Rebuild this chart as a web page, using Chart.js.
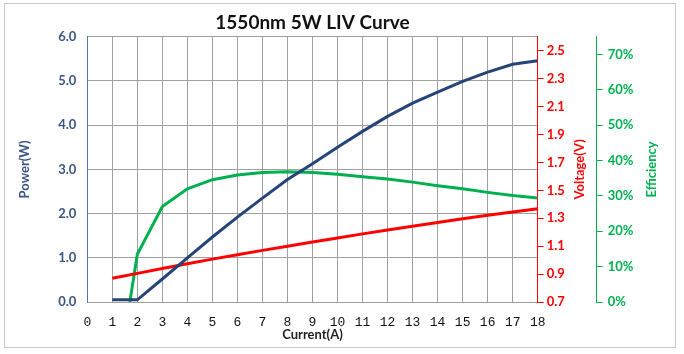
<!DOCTYPE html>
<html>
<head>
<meta charset="utf-8">
<script src="https://cdn.jsdelivr.net/npm/chart.js@4.4.1/dist/chart.umd.min.js"></script>
<style>
  body { margin: 0; background: #fff; }
  #wrap { position: relative; width: 684px; height: 354px; }
  #frame { position: absolute; left: 4px; top: 3px; width: 670px; height: 343px; border: 1px solid #c8c8c8; pointer-events: none; }
</style>
</head>
<body>
<div id="wrap">
  <canvas id="chart1" width="684" height="354"></canvas>
  <div id="frame"></div>
</div>
<script>
const current = [1, 2, 3, 4, 5, 6, 7, 8, 9, 10, 11, 12, 13, 14, 15, 16, 17, 18];
const power = [0.05, 0.05, 0.52, 1.0, 1.47, 1.92, 2.35, 2.77, 3.13, 3.5, 3.86, 4.2, 4.5, 4.75, 4.99, 5.2, 5.38, 5.46];
const voltage = [0.87, 0.905, 0.94, 0.974, 1.007, 1.039, 1.07, 1.1, 1.13, 1.159, 1.188, 1.216, 1.243, 1.27, 1.296, 1.321, 1.345, 1.368];
const effCurrent = [1.7, 2, 3, 4, 5, 6, 7, 8, 9, 10, 11, 12, 13, 14, 15, 16, 17, 18];
const efficiency = [0, 13.5, 27, 32, 34.6, 35.9, 36.6, 36.8, 36.6, 36.1, 35.4, 34.8, 33.9, 32.9, 32.0, 31.0, 30.1, 29.4];

const voltageTicks = [0.7, 0.9, 1.1, 1.3, 1.5, 1.7, 1.9, 2.1, 2.3, 2.5];
const effTicks = [0, 10, 20, 30, 40, 50, 60, 70];

const blue = '#264478';
const red = '#ff0000';
const green = '#00b050';
const axisBlue = '#3b5584';
const gridGray = '#a0a0a0';
const fontName = 'Lato, "Open Sans", sans-serif';

function pts(xs, ys) {
  return xs.map((x, i) => ({ x: x, y: ys[i] }));
}

// right side axis titles read bottom-to-top, so draw them here
const sideTitles = {
  id: 'sideTitles',
  afterDraw(chart) {
    const c = chart.ctx;
    const mid = (chart.chartArea.top + chart.chartArea.bottom) / 2;
    const items = [
      { text: 'Voltage(V)', x: chart.scales.y1.left + 42, color: red },
      { text: 'Efficiency', x: chart.scales.y2.left + 55, color: green }
    ];
    c.save();
    c.font = 'bold 13px ' + fontName;
    c.textAlign = 'center';
    c.textBaseline = 'middle';
    items.forEach(it => {
      c.save();
      c.translate(it.x, mid);
      c.rotate(-Math.PI / 2);
      c.fillStyle = it.color;
      c.fillText(it.text, 0, 0);
      c.restore();
    });
    c.restore();
  }
};

const ctx = document.getElementById('chart1').getContext('2d');
const myChart = new Chart(ctx, {
  type: 'line',
  data: {
    datasets: [
      {
        label: 'Power',
        data: pts(current, power),
        borderColor: blue,
        borderWidth: 3,
        pointRadius: 0,
        yAxisID: 'y'
      },
      {
        label: 'Voltage',
        data: pts(current, voltage),
        borderColor: red,
        borderWidth: 3,
        pointRadius: 0,
        yAxisID: 'y1'
      },
      {
        label: 'Efficiency',
        data: pts(effCurrent, efficiency),
        borderColor: green,
        borderWidth: 3,
        pointRadius: 0,
        yAxisID: 'y2'
      }
    ]
  },
  options: {
    responsive: false,
    animation: false,
    layout: { padding: { left: 16, right: 8, top: 4, bottom: 8 } },
    plugins: {
      legend: { display: false },
      tooltip: { enabled: false },
      title: {
        display: true,
        text: '1550nm 5W LIV Curve',
        fullSize: false,
        color: '#111',
        font: { family: fontName, size: 19, weight: 'bold' },
        padding: { top: 7, bottom: 3 }
      }
    },
    scales: {
      x: {
        type: 'linear',
        min: 0,
        max: 18,
        afterFit: s => { s.height = 44; },
        ticks: {
          stepSize: 1,
          padding: 13,
          color: '#111',
          font: { family: '"Liberation Mono", monospace', size: 13 }
        },
        grid: { color: gridGray, drawTicks: false },
        border: { color: gridGray },
        title: {
          display: true,
          text: 'Current(A)',
          color: '#222',
          font: { family: fontName, size: 13, weight: 'bold' },
          padding: { top: 0, bottom: 3 }
        }
      },
      y: {
        position: 'left',
        min: 0,
        max: 6,
        afterFit: s => { s.width = 71.3; },
        ticks: {
          stepSize: 1,
          padding: 11,
          color: axisBlue,
          font: { family: fontName, size: 13, weight: 'bold' },
          callback: v => v.toFixed(1)
        },
        grid: { color: gridGray, drawTicks: false },
        border: { color: '#5a76a8' },
        title: {
          display: true,
          text: 'Power(W)',
          color: axisBlue,
          font: { family: fontName, size: 13, weight: 'bold' },
          padding: { top: 1, bottom: 0 }
        }
      },
      y1: {
        position: 'right',
        min: 0.7,
        max: 2.6,
        afterFit: s => { s.width = 59; },
        afterBuildTicks: s => { s.ticks = voltageTicks.map(v => ({ value: v })); },
        ticks: {
          padding: 3,
          color: red,
          font: { family: fontName, size: 13, weight: 'bold' },
          callback: v => v.toFixed(1)
        },
        grid: { drawOnChartArea: false, color: red, tickLength: 6 },
        border: { color: red }
      },
      y2: {
        position: 'right',
        min: 0,
        max: 75,
        afterFit: s => { s.width = 79.3; },
        afterBuildTicks: s => { s.ticks = effTicks.map(v => ({ value: v })); },
        ticks: {
          padding: 5,
          color: green,
          font: { family: fontName, size: 13, weight: 'bold' },
          callback: v => v + '%'
        },
        grid: { drawOnChartArea: false, color: green, tickLength: 6 },
        border: { color: green }
      }
    }
  },
  plugins: [sideTitles]
});
</script>
</body>
</html>
